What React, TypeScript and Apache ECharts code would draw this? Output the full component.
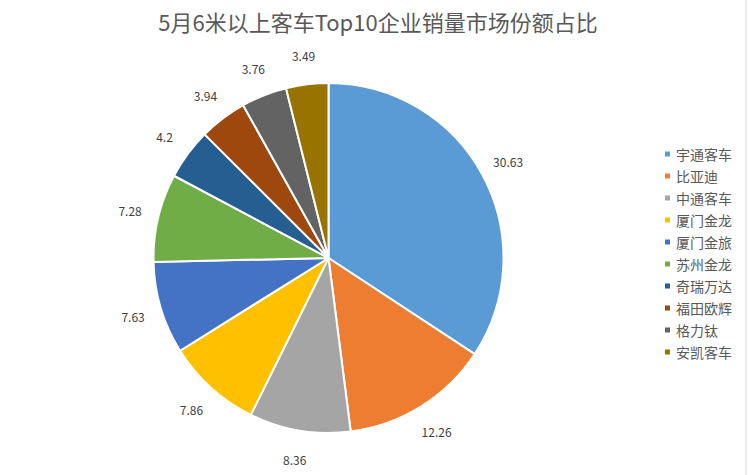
import React, { useEffect, useRef } from 'react'
import * as echarts from 'echarts'

/*==================================================================
    DATA
==================================================================*/
const TITLE = '5月6米以上客车Top10企业销量市场份额占比'
const COMPANIES = ['宇通客车', '比亚迪', '中通客车', '厦门金龙', '厦门金旅', '苏州金龙', '奇瑞万达', '福田欧辉', '格力钛', '安凯客车']
const SHARES = [30.63, 12.26, 8.36, 7.86, 7.63, 7.28, 4.2, 3.94, 3.76, 3.49]
const COLORS = ['#5B9BD5', '#ED7D31', '#A5A5A5', '#FFC000', '#4472C4', '#70AD47', '#255E91', '#9E480E', '#636363', '#997300']

const FONT = '"Noto Sans CJK SC", "Noto Sans", sans-serif'
const CENTER: [number, number] = [328.5, 258]

/*==================================================================
    APP
==================================================================*/
export default function App() {
  const ref = useRef<HTMLDivElement>(null)

  useEffect(() => {
    document.body.style.margin = '0'
    if (!ref.current) return
    const chart = echarts.init(ref.current, undefined, { renderer: 'svg' })

    const pieData = COMPANIES.map((name, i) => ({ name, value: SHARES[i], itemStyle: { color: COLORS[i] } }))

    const option: echarts.EChartsOption = {
      animation: false,
      backgroundColor: '#fff',
      textStyle: { fontFamily: FONT },
      title: {
        text: TITLE,
        left: 373,
        top: 5,
        textAlign: 'center',
        textStyle: { fontSize: 22, fontWeight: 'normal', color: '#595959', fontFamily: FONT },
      },
      legend: {
        orient: 'vertical',
        left: 658,
        top: 141,
        itemWidth: 7,
        itemHeight: 7,
        itemGap: 6,
        icon: 'rect',
        data: COMPANIES,
        textStyle: { fontSize: 14, lineHeight: 16, color: '#595959', fontFamily: FONT },
      },
      graphic: [
        { type: 'line', shape: { x1: 746, y1: 0, x2: 746, y2: 475 }, style: { stroke: '#d9d9d9', lineWidth: 1 }, silent: true },
      ],
      series: [
        {
          type: 'pie',
          center: CENTER,
          radius: [0, 175],
          startAngle: 90,
          clockwise: true,
          data: pieData,
          label: { show: false },
          labelLine: { show: false },
          itemStyle: { borderColor: '#fff', borderWidth: 2 },
          emphasis: { disabled: true },
        },
        {
          // transparent ring only to place the value labels around the pie
          type: 'pie',
          center: CENTER,
          radius: [189, 213],
          startAngle: 90,
          clockwise: true,
          silent: true,
          data: COMPANIES.map((name, i) => ({ name, value: SHARES[i] })),
          itemStyle: { color: 'rgba(0,0,0,0)' },
          label: {
            show: true,
            position: 'inside',
            formatter: (p: any) => String(p.value),
            fontSize: 12,
            color: '#404040',
            fontFamily: FONT,
          },
          labelLine: { show: false },
          emphasis: { disabled: true },
        },
      ],
    }

    chart.setOption(option)
    return () => chart.dispose()
  }, [])

  return <div ref={ref} style={{ width: 749, height: 475 }} />
}
